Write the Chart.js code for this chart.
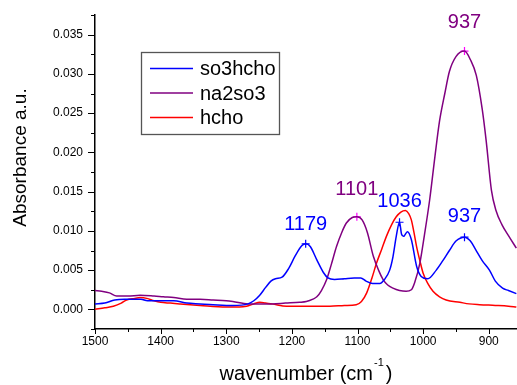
<!DOCTYPE html>
<html>
<head>
<meta charset="utf-8">
<title>IR spectra</title>
<script src="https://cdn.jsdelivr.net/npm/chart.js@4.4.0/dist/chart.umd.min.js"></script>
<style>
  html, body { margin: 0; padding: 0; background: #fff; }
  #wrap { position: relative; width: 517px; height: 385px; }
</style>
</head>
<body>
<div id="wrap"><canvas id="spectra"></canvas></div>
<script>
// spectra, wavenumber in cm-1 / absorbance
const so3hchoWn = [1500, 1485, 1470, 1455, 1430, 1420, 1400, 1380, 1360, 1340, 1320, 1290, 1267, 1258, 1249, 1240, 1232, 1225, 1215, 1205, 1195, 1185, 1179, 1172, 1162, 1152, 1145, 1135, 1120, 1105, 1095, 1087, 1077, 1066, 1059, 1051, 1046, 1041, 1036, 1033, 1030, 1024, 1018, 1010, 1003, 993, 980, 970, 960, 950, 937, 928, 920, 910, 899, 890, 879, 870, 858];
const so3hchoAbs = [0.0007, 0.0008, 0.0012, 0.0013, 0.0013, 0.0011, 0.0011, 0.0011, 0.0008, 0.0007, 0.0006, 0.0005, 0.0007, 0.0011, 0.0018, 0.0028, 0.0036, 0.0039, 0.0041, 0.0052, 0.0068, 0.0081, 0.00835, 0.0080, 0.0063, 0.0047, 0.0040, 0.0038, 0.0039, 0.0040, 0.0040, 0.0036, 0.0033, 0.0033, 0.0038, 0.0050, 0.0067, 0.0093, 0.0111, 0.0096, 0.0093, 0.0099, 0.0089, 0.0055, 0.0042, 0.0039, 0.0050, 0.0062, 0.0075, 0.0087, 0.0092, 0.0087, 0.0076, 0.0062, 0.0050, 0.0036, 0.0027, 0.0024, 0.0020];

const na2so3Wn = [1500, 1490, 1478, 1467, 1450, 1431, 1410, 1396, 1380, 1360, 1340, 1320, 1300, 1290, 1267, 1250, 1230, 1210, 1188, 1178, 1168, 1162, 1155, 1147, 1140, 1132, 1124, 1117, 1108, 1101, 1093, 1085, 1076, 1068, 1061, 1054, 1046, 1036, 1026, 1018, 1013, 1005, 998, 990, 982, 975, 967, 960, 950, 937, 928, 919, 910, 904, 896, 889, 880, 870, 858];
const na2so3Abs = [0.0024, 0.0023, 0.0021, 0.0017, 0.0017, 0.0018, 0.0017, 0.0016, 0.0015, 0.0013, 0.0013, 0.0012, 0.0011, 0.0010, 0.0007, 0.0007, 0.0007, 0.0008, 0.0009, 0.0010, 0.0013, 0.0016, 0.0024, 0.0038, 0.0057, 0.0080, 0.0098, 0.0110, 0.0117, 0.0118, 0.0114, 0.0098, 0.0068, 0.0050, 0.0038, 0.0031, 0.0027, 0.0024, 0.0023, 0.0025, 0.0034, 0.0059, 0.0095, 0.0140, 0.0195, 0.0240, 0.0275, 0.0303, 0.0322, 0.0329, 0.0318, 0.0298, 0.0255, 0.0215, 0.0152, 0.0126, 0.0108, 0.0094, 0.0078];

const hchoWn = [1500, 1485, 1472, 1460, 1452, 1440, 1431, 1421, 1410, 1400, 1385, 1371, 1340, 1300, 1280, 1269, 1258, 1249, 1240, 1230, 1208, 1188, 1160, 1142, 1120, 1102, 1094, 1086, 1078, 1071, 1063, 1056, 1048, 1041, 1034, 1027, 1022, 1018, 1014, 1010, 1005, 1000, 993, 985, 975, 965, 944, 930, 914, 890, 870, 858];
const hchoAbs = [0.0000, 0.0002, 0.0004, 0.0008, 0.0012, 0.0014, 0.0015, 0.0014, 0.0011, 0.0009, 0.0008, 0.0007, 0.0005, 0.0003, 0.0003, 0.0004, 0.0007, 0.0009, 0.0008, 0.0007, 0.0004, 0.0004, 0.0004, 0.0004, 0.0005, 0.0006, 0.0010, 0.0021, 0.0040, 0.0059, 0.0077, 0.0093, 0.0108, 0.0118, 0.0124, 0.0126, 0.0122, 0.0114, 0.0098, 0.0080, 0.0062, 0.0046, 0.0033, 0.0023, 0.0016, 0.0012, 0.0009, 0.0007, 0.0006, 0.0005, 0.0004, 0.0003];

// marked peaks
const so3hchoPeakWn = [1179, 1036, 937];
const so3hchoPeakAbs = [0.00835, 0.0111, 0.0092];
const na2so3PeakWn = [1101, 937];
const na2so3PeakAbs = [0.0118, 0.0329];

const seriesNames = ['so3hcho', 'na2so3', 'hcho'];

document.addEventListener("DOMContentLoaded", () => {
  const FONT = '"Liberation Sans", Arial, sans-serif';
  const colors = { so3hcho: '#0000ff', na2so3: '#800080', hcho: '#ff0000' };
  // vertical offset of each peak label above its marker
  const labelLift = { so3hcho: [-19, -21, -21], na2so3: [-27, -29] };

  const toXY = (xs, ys) => xs.map((x, i) => ({ x: x, y: ys[i] }));

  const curve = (name, xs, ys) => ({
    label: name,
    data: toXY(xs, ys),
    borderColor: colors[name],
    borderWidth: 1.5,
    pointRadius: 0,
    fill: false,
    cubicInterpolationMode: 'monotone'
  });

  const marks = (name, xs, ys, color) => ({
    label: name + ' peaks',
    data: toXY(xs, ys),
    showLine: false,
    pointStyle: 'cross',
    pointRadius: 4,
    pointBorderWidth: 1.2,
    pointBorderColor: color,
    pointBackgroundColor: color
  });

  // ticks, titles, legend and peak labels
  const decor = {
    id: 'decor',
    afterDraw(chart) {
      const { ctx, chartArea: area, scales: { x, y } } = chart;
      ctx.save();
      ctx.strokeStyle = '#000';
      ctx.lineWidth = 1;
      ctx.beginPath();
      x.ticks.forEach(t => {
        const px = Math.round(x.getPixelForValue(t.value)) + 0.5;
        const len = t.value % 100 === 0 ? 5 : 3;
        ctx.moveTo(px, area.bottom);
        ctx.lineTo(px, area.bottom + len);
      });
      y.ticks.forEach(t => {
        const py = Math.round(y.getPixelForValue(t.value)) + 0.5;
        const len = Math.round(t.value * 10000) % 50 === 0 ? 7 : 4;
        ctx.moveTo(area.left, py);
        ctx.lineTo(area.left - len, py);
      });
      ctx.stroke();

      // axis titles
      ctx.fillStyle = '#000';
      ctx.textBaseline = 'alphabetic';
      ctx.textAlign = 'left';
      const main = 'wavenumber (cm', sup = '-1', close = ')';
      ctx.font = '20px ' + FONT;
      const w1 = ctx.measureText(main).width;
      const w3 = ctx.measureText(close).width;
      ctx.font = '11px ' + FONT;
      const w2 = ctx.measureText(sup).width + 3;
      let tx = (area.left + area.right) / 2 - (w1 + w2 + w3) / 2;
      const base = 380;
      ctx.font = '20px ' + FONT;
      ctx.fillText(main, tx, base);
      ctx.font = '11px ' + FONT;
      ctx.fillText(sup, tx + w1 + 1, base - 14);
      ctx.font = '20px ' + FONT;
      ctx.fillText(close, tx + w1 + w2, base);

      ctx.save();
      ctx.translate(21, 157.5);
      ctx.rotate(-Math.PI / 2);
      ctx.textAlign = 'center';
      ctx.textBaseline = 'middle';
      ctx.font = '19px ' + FONT;
      ctx.fillText('Absorbance a.u.', 0, 0);
      ctx.restore();

      // legend box
      ctx.strokeStyle = '#555';
      ctx.lineWidth = 1.3;
      ctx.strokeRect(141.5, 52.5, 138, 82);
      ctx.font = '20px ' + FONT;
      ctx.textBaseline = 'middle';
      ctx.textAlign = 'left';
      seriesNames.forEach((name, i) => {
        const ly = 68.5 + i * 24.5;
        ctx.strokeStyle = colors[name];
        ctx.lineWidth = 1.5;
        ctx.beginPath();
        ctx.moveTo(150, ly);
        ctx.lineTo(193, ly);
        ctx.stroke();
        ctx.fillStyle = '#000';
        ctx.fillText(name, 200, ly + 1);
      });

      // peak labels
      ctx.textAlign = 'center';
      [[3, 'so3hcho', so3hchoPeakWn], [4, 'na2so3', na2so3PeakWn]].forEach(([idx, name, wns]) => {
        const pts = chart.getDatasetMeta(idx).data;
        ctx.fillStyle = colors[name];
        pts.forEach((p, j) => {
          ctx.fillText(String(wns[j]), p.x, p.y + labelLift[name][j]);
        });
      });
      ctx.restore();
    }
  };

  new Chart(document.getElementById('spectra'), {
    type: 'line',
    data: {
      datasets: [
        curve('so3hcho', so3hchoWn, so3hchoAbs),
        curve('na2so3', na2so3Wn, na2so3Abs),
        curve('hcho', hchoWn, hchoAbs),
        marks('so3hcho', so3hchoPeakWn, so3hchoPeakAbs, '#0000ff'),
        marks('na2so3', na2so3PeakWn, na2so3PeakAbs, '#ff00ff')
      ]
    },
    options: {
      responsive: true,
      maintainAspectRatio: false,
      animation: false,
      devicePixelRatio: 1,
      layout: { autoPadding: false, padding: { top: 15, right: 0, left: 0, bottom: 0 } },
      plugins: {
        legend: { display: false },
        tooltip: { enabled: false }
      },
      scales: {
        x: {
          type: 'linear',
          reverse: true,
          min: 857,
          max: 1500,
          afterFit: s => { s.height = 56; s.paddingLeft = 0; s.paddingRight = 0; },
          grid: { display: false, drawTicks: false },
          border: { display: true, color: '#000', width: 1.5 },
          ticks: {
            stepSize: 50,
            includeBounds: false,
            autoSkip: false,
            maxRotation: 0,
            padding: 5,
            color: '#000',
            font: { family: FONT, size: 12 },
            callback: v => (v % 100 === 0 ? String(v) : '')
          }
        },
        y: {
          min: -0.0025,
          max: 0.0375,
          afterFit: s => { s.width = 95; s.paddingTop = 0; s.paddingBottom = 0; },
          grid: { display: false, drawTicks: false },
          border: { display: true, color: '#000', width: 1.5 },
          ticks: {
            stepSize: 0.0025,
            includeBounds: false,
            autoSkip: false,
            padding: 12,
            color: '#000',
            font: { family: FONT, size: 12 },
            callback: v => {
              const r = Math.round(v * 10000);
              if (r % 50 !== 0 || r < 0) return '';
              return (r / 10000).toFixed(3);
            }
          }
        }
      }
    },
    plugins: [decor]
  });
});
</script>
</body>
</html>
